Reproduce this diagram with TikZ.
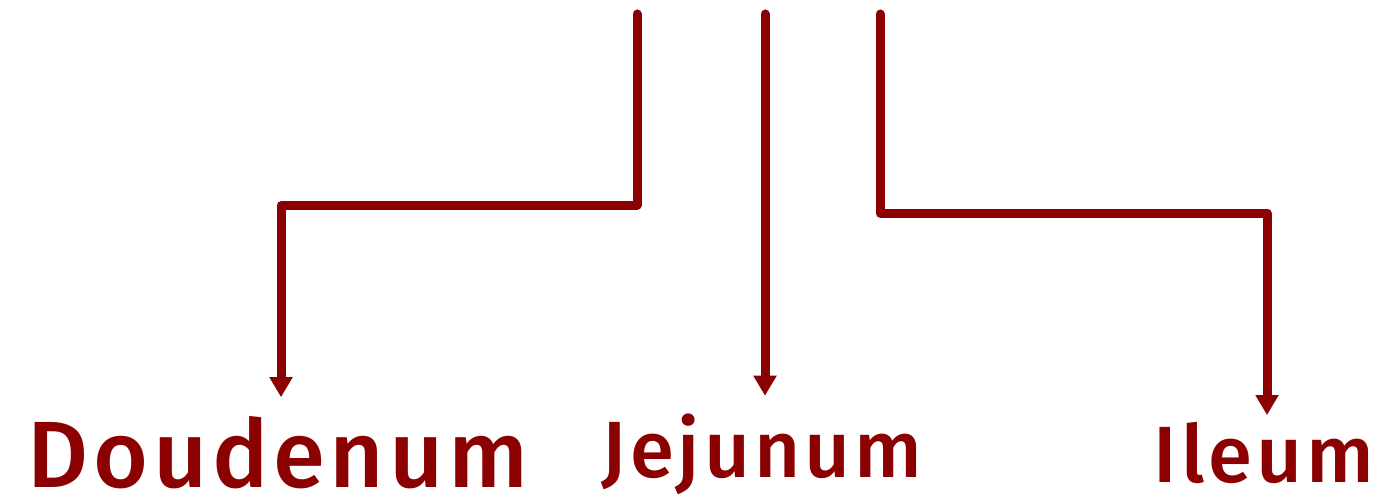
\documentclass[tikz,border=0pt]{standalone}
\usepackage{fontspec}
\setmainfont{Fira Sans}[UprightFont=* Medium, LetterSpace=5]
\usetikzlibrary{arrows.meta, positioning}
\definecolor{gutred}{HTML}{8B0000}

\begin{document}
\begin{tikzpicture}[
      arr/.style={draw=gutred, line width=0.09cm, line cap=round, line join=round,
                  -{Triangle[length=0.2cm, width=0.22cm]}},
      part/.style={text=gutred, inner sep=0pt, anchor=base},
      big/.style={font=\fontsize{26.8}{30}\selectfont},
      mid/.style={font=\fontsize{22.7}{26}\selectfont}
    ]
    \useasboundingbox (0,0) rectangle (13.8,4.99);

    % Abschnitte
    \node[part, big] (doud) at (2.78,0.12) {Doudenum};
    \node[part, mid] (jeju) at (7.62,0.22) {Jejunum};
    \node[part, mid] (ileum) at (12.64,0.17) {Ileum};

    % Zulauf oben
    \coordinate (d0) at (6.37,4.85);
    \coordinate (j0) at (7.65,4.85);
    \coordinate (i0) at (8.80,4.85);

    % Pfeile
    \draw[arr, shorten >=0.18cm] (d0) -- (d0 |- 0,2.94) -| ([xshift=0.03cm]doud.north);
    \draw[arr, shorten >=0.17cm] (j0) -- (j0 |- jeju.north);
    \draw[arr, shorten >=0.06cm] (i0) -- (i0 |- 0,2.86) -| ([xshift=0.03cm]ileum.north);
  \end{tikzpicture}
\end{document}
